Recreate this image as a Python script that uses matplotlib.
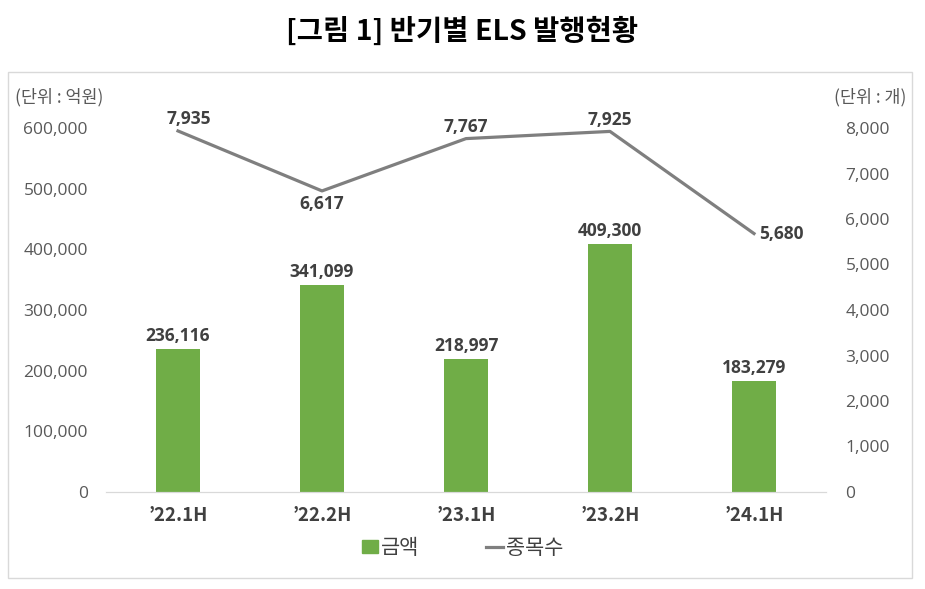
import numpy as np
import matplotlib.pyplot as plt
from matplotlib.patches import Rectangle

plt.rcParams['font.family'] = ['Noto Sans CJK KR', 'DejaVu Sans']

periods = ['\u201922.1H', '\u201922.2H', '\u201923.1H', '\u201923.2H', '\u201924.1H']
amounts = [236116, 341099, 218997, 409300, 183279]   # 금액 (억원)
counts = [7935, 6617, 7767, 7925, 5680]              # 종목수 (개)

green = '#70AD47'
line_gray = '#7F7F7F'
tick_gray = '#595959'
label_dark = '#404040'
num_font = ['Open Sans', 'DejaVu Sans']

fig = plt.figure(figsize=(9.25, 5.89), dpi=100)

# outer chart frame
fig.patches.append(Rectangle((8 / 925, 1 - 578 / 589), 904 / 925, 506 / 589,
                             transform=fig.transFigure, fill=False,
                             edgecolor='#D9D9D9', linewidth=1))

fig.text(0.5, 1 - 31 / 589, '[그림 1] 반기별 ELS 발행현황', ha='center', va='center',
         fontsize=20.5, fontweight='bold', color='black')

ax = fig.add_axes([106 / 925, 1 - 492 / 589, 720 / 925, 364 / 589])
ax2 = ax.twinx()

pos = np.arange(len(periods))
ax.bar(pos, amounts, 0.31, color=green, zorder=2)
ax.set_xlim(-0.5, len(periods) - 0.5)
ax.set_ylim(0, 600000)
ax.set_yticks(np.arange(0, 600001, 100000))
ax.set_yticklabels(['{:,}'.format(v) for v in range(0, 600001, 100000)],
                   family=num_font)
ax.set_xticks(pos)
ax.set_xticklabels(periods, fontweight='bold', fontsize=13.5)

ax2.plot(pos, counts, color=line_gray, linewidth=2.3, zorder=3)
ax2.set_ylim(0, 8000)
ax2.set_yticks(np.arange(0, 8001, 1000))
ax2.set_yticklabels(['{:,}'.format(v) for v in range(0, 8001, 1000)], family=num_font)

for a in (ax, ax2):
    for s in ('top', 'left', 'right'):
        a.spines[s].set_visible(False)
    a.spines['bottom'].set_color('#D9D9D9')
    a.tick_params(length=0, colors=tick_gray)
    a.tick_params(axis='y', labelsize=12.5)
ax.tick_params(axis='y', pad=13)
ax2.tick_params(axis='y', pad=14)
ax.tick_params(axis='x', pad=10, labelcolor=label_dark)

for x, v in zip(pos, amounts):
    ax.annotate('{:,}'.format(v), (x, v), xytext=(0, 3), textcoords='offset points',
                ha='center', va='bottom', fontsize=12.5, fontweight='bold',
                color=label_dark, family=num_font)

offsets = [(8, 2, 'center', 'bottom'), (0, -3, 'center', 'top'),
           (0, 2, 'center', 'bottom'), (0, 2, 'center', 'bottom'),
           (4, 0, 'left', 'center')]
for x, v, (dx, dy, ha, va) in zip(pos, counts, offsets):
    ax2.annotate('{:,}'.format(v), (x, v), xytext=(dx, dy), textcoords='offset points',
                 ha=ha, va=va, fontsize=12.5, fontweight='bold', color=label_dark,
                 family=num_font)

fig.text(15 / 925, 1 - 97 / 589, '(단위 : 억원)', ha='left', va='center',
         fontsize=12.5, color=tick_gray)
fig.text(906 / 925, 1 - 97 / 589, '(단위 : 개)', ha='right', va='center',
         fontsize=12.5, color=tick_gray)

h1 = Rectangle((0, 0), 1, 1, color=green)
h2 = plt.Line2D([], [], color=line_gray, linewidth=2.3)
fig.legend([h1, h2], ['금액', '종목수'], loc='center', bbox_to_anchor=(0.5, 1 - 548 / 589),
           ncol=2, frameon=False, fontsize=15, handlelength=0.8, handleheight=0.6,
           handletextpad=0.15, columnspacing=3.2, labelcolor=label_dark)

fig.savefig('out.png', dpi=100, facecolor='white')
